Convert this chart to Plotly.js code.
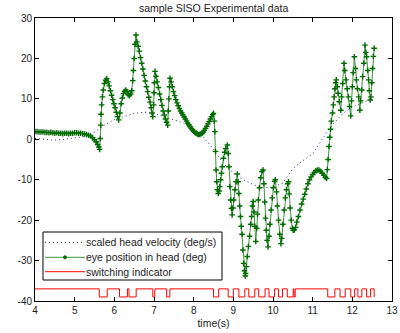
<!DOCTYPE html>
<html>
<head>
<meta charset="utf-8">
<script src="https://cdn.plot.ly/plotly-3.0.1.min.js"></script>
<style>html,body{margin:0;padding:0;background:#fff;}#chart{width:400px;height:333px;}</style>
</head>
<body>
<div id="chart"></div>
<script>
// Scaled head velocity (deg/s), dotted blue
var headT = [4.0,4.25,4.5,4.75,5.0,5.25,5.5,5.75,6.0,6.25,6.5,6.75,7.0,7.25,7.5,7.75,8.0,8.25,8.5,8.75,9.0,9.25,9.5,9.75,10.0,10.25,10.5,10.75,11.0,11.25,11.5,11.75,12.0,12.25,12.5];
var headV = [0.2,0.0,-0.2,0.0,0.3,0.7,1.8,3.5,4.9,5.7,6.4,6.7,6.4,5.6,4.8,4.0,2.3,0.5,-2.5,-6.0,-8.3,-10.0,-11.2,-12.0,-11.8,-10.8,-7.3,-5.3,-3.6,0.2,3.6,6.3,8.0,9.0,10.0];

// Eye position in head (deg), green line with markers
var eyeT = [4.00,4.05,4.10,4.15,4.20,4.25,4.30,4.35,4.40,4.45,4.50,4.55,4.60,4.65,4.70,4.75,4.80,4.85,4.90,4.95,5.00,5.05,5.10,5.15,5.20,5.25,5.30,5.35,5.40,5.45,5.50,5.54,5.58,5.61,5.63,5.645,5.655,5.665,5.68,5.70,5.72,5.75,5.78,5.81,5.84,5.87,5.90,5.93,5.96,5.99,6.02,6.05,6.08,6.11,6.14,6.17,6.20,6.23,6.26,6.29,6.32,6.35,6.38,6.41,6.44,6.465,6.48,6.50,6.52,6.545,6.57,6.60,6.63,6.66,6.69,6.72,6.75,6.78,6.81,6.84,6.87,6.90,6.93,6.95,6.97,6.99,7.00,7.01,7.025,7.05,7.08,7.11,7.14,7.17,7.20,7.23,7.26,7.29,7.32,7.345,7.36,7.375,7.39,7.405,7.43,7.46,7.49,7.52,7.55,7.58,7.61,7.64,7.67,7.70,7.73,7.76,7.79,7.82,7.85,7.88,7.91,7.94,7.97,8.00,8.03,8.06,8.09,8.12,8.15,8.18,8.21,8.24,8.27,8.30,8.33,8.36,8.39,8.42,8.45,8.48,8.50,8.52,8.535,8.55,8.565,8.58,8.60,8.62,8.64,8.66,8.68,8.70,8.72,8.75,8.78,8.81,8.85,8.87,8.89,8.91,8.93,8.95,8.97,8.99,9.01,9.04,9.07,9.10,9.12,9.14,9.16,9.18,9.20,9.22,9.24,9.26,9.28,9.30,9.31,9.33,9.35,9.38,9.41,9.44,9.46,9.48,9.50,9.52,9.54,9.565,9.59,9.61,9.63,9.66,9.69,9.72,9.75,9.77,9.79,9.81,9.83,9.85,9.875,9.90,9.92,9.95,9.98,10.01,10.04,10.06,10.09,10.11,10.14,10.17,10.20,10.22,10.25,10.28,10.31,10.34,10.37,10.39,10.41,10.43,10.46,10.49,10.51,10.54,10.57,10.60,10.64,10.68,10.72,10.76,10.80,10.84,10.88,10.92,10.96,11.00,11.04,11.08,11.12,11.16,11.20,11.24,11.28,11.32,11.35,11.37,11.39,11.41,11.43,11.45,11.47,11.50,11.52,11.54,11.56,11.58,11.595,11.62,11.64,11.67,11.71,11.73,11.76,11.79,11.81,11.84,11.87,11.90,11.93,11.96,11.98,12.00,12.02,12.05,12.08,12.10,12.13,12.16,12.19,12.21,12.24,12.26,12.29,12.32,12.34,12.36,12.39,12.41,12.43,12.45,12.47,12.49,12.51,12.53,12.55];
var eyeV = [1.9,1.9,1.8,1.8,1.8,1.7,1.7,1.6,1.7,1.6,1.5,1.6,1.5,1.5,1.4,1.5,1.5,1.4,1.5,1.5,1.6,1.6,1.5,1.5,1.4,1.3,1.2,1.0,0.8,0.4,-0.1,-0.6,-1.3,-1.9,-2.5,0.2,3.5,6.2,8.5,10.5,12.2,13.8,14.6,15.0,14.2,13.2,12.0,10.9,9.8,8.8,7.8,6.7,5.6,4.8,6.5,8.8,10.2,11.3,11.9,12.2,11.8,11.0,10.8,11.2,12.0,14.5,17.0,20.0,23.5,25.8,24.1,23.0,21.8,20.2,18.8,17.4,15.8,14.4,13.0,11.8,10.4,9.2,7.8,6.5,5.6,8.5,11.5,14.0,16.8,15.6,14.2,12.8,11.2,9.8,8.4,7.0,6.0,5.0,4.2,3.5,7.0,10.0,13.0,15.1,14.2,13.0,11.8,10.8,9.8,9.0,8.3,7.6,7.0,6.5,6.0,5.5,5.0,4.5,4.0,3.6,3.1,2.7,2.3,2.0,1.7,1.5,1.3,1.2,1.2,1.3,1.5,1.8,2.2,2.7,3.2,3.8,4.4,5.0,5.6,6.1,6.4,4.5,1.9,-3.0,-7.6,-10.5,-12.5,-13.4,-12.8,-11.7,-10.0,-8.4,-6.8,-4.7,-3.2,-2.3,-1.4,-3.5,-6.8,-11.7,-15.0,-17.1,-18.7,-17.0,-15.0,-12.5,-10.5,-8.6,-10.5,-13.4,-16.5,-19.1,-21.5,-23.5,-27.4,-30.7,-32.5,-33.8,-33.2,-31.5,-29.0,-26.5,-24.0,-21.0,-19.1,-16.5,-15.4,-18.0,-21.5,-25.3,-22.0,-18.5,-15.0,-12.0,-9.5,-8.0,-7.6,-11.0,-15.5,-19.5,-22.5,-25.0,-26.6,-24.0,-21.0,-17.5,-14.5,-12.0,-10.4,-10.0,-13.0,-16.5,-20.0,-23.5,-25.8,-24.5,-21.0,-17.5,-14.5,-12.5,-11.0,-10.5,-13.5,-17.0,-20.0,-22.0,-22.5,-22.4,-21.8,-20.5,-19.1,-17.5,-16.0,-14.8,-13.6,-12.3,-11.0,-10.0,-9.3,-8.7,-8.2,-7.8,-7.6,-7.6,-7.9,-8.4,-8.9,-9.4,-9.7,-7.5,-5.0,-1.8,0.5,2.5,4.5,6.5,8.5,10.5,12.5,14.0,14.7,13.0,11.4,9.3,7.2,10.5,13.8,18.8,17.0,14.7,12.5,10.5,8.1,5.8,9.5,13.0,16.5,20.4,17.5,14.7,12.5,10.5,7.2,9.5,12.2,15.5,18.8,23.3,21.5,20.4,17.0,14.7,12.0,9.7,10.5,14.0,17.5,20.5,22.5];

// Switching indicator (step signal)
var switchT = [4.0,5.62,5.82,6.13,6.33,6.37,6.55,6.97,7.02,7.32,7.40,8.50,8.63,8.87,9.00,9.14,9.29,9.39,9.54,9.64,9.80,9.90,10.04,10.14,10.24,10.36,10.51,10.53,10.56,11.38,11.56,11.69,11.82,11.96,12.06,12.14,12.24,12.36,12.46,12.55];
var switchV = [-37,-39,-37,-39,-37,-39,-37,-39,-37,-39,-37,-39,-37,-39,-37,-39,-37,-39,-37,-39,-37,-39,-37,-39,-37,-39,-37,-39,-37,-39,-37,-39,-37,-39,-37,-39,-37,-39,-37,-39];

var seriesNames = ['scaled head velocity (deg/s)','eye position in head (deg)','switching indicator'];
var xTicks = [4,5,6,7,8,9,10,11,12,13];
var yTicks = [-40,-30,-20,-10,0,10,20,30];

var font = 'Liberation Sans, Arial, Helvetica, sans-serif';
var headColor = '#2a2a8a', eyeLine = '#3f943f', eyeMarker = '#006b00', switchColor = '#ff0000';

var traces = [
  {x: headT, y: headV, name: seriesNames[0], mode: 'lines', showlegend: false,
   line: {color: headColor, width: 1, dash: '1px,3px'}},
  {x: eyeT, y: eyeV, name: seriesNames[1], mode: 'lines+markers', showlegend: false,
   line: {color: eyeLine, width: 1},
   marker: {symbol: 'cross-thin', size: 4, color: eyeMarker, line: {width: 1.4, color: eyeMarker}}},
  {x: switchT, y: switchV, name: seriesNames[2], mode: 'lines', showlegend: false,
   line: {color: switchColor, width: 1, shape: 'hv'}}
];

var axisCommon = {
  showline: true, linecolor: '#000', linewidth: 1, mirror: 'allticks',
  ticks: 'inside', ticklen: 4, tickcolor: '#000', showgrid: false, zeroline: false,
  tickfont: {family: font, size: 10, color: '#222'}
};

// Legend box (drawn in paper coordinates of the plot area)
var lg = {x0: 0.0224, x1: 0.5238, y0: 0.0742, y1: 0.2438, sx0: 0.028, sx1: 0.140, tx: 0.141,
          rows: [0.2074, 0.1544, 0.1035]};
var shapes = [
  {type: 'rect', xref: 'paper', yref: 'paper', x0: lg.x0, x1: lg.x1, y0: lg.y0, y1: lg.y1,
   line: {color: '#000', width: 1}, fillcolor: '#fff', layer: 'above'},
  {type: 'line', xref: 'paper', yref: 'paper', x0: lg.sx0, x1: lg.sx1, y0: lg.rows[0], y1: lg.rows[0],
   line: {color: headColor, width: 1, dash: '1px,3px'}, layer: 'above'},
  {type: 'line', xref: 'paper', yref: 'paper', x0: lg.sx0, x1: lg.sx1, y0: lg.rows[1], y1: lg.rows[1],
   line: {color: eyeLine, width: 1}, layer: 'above'},
  {type: 'circle', xref: 'paper', yref: 'paper', xsizemode: 'pixel', ysizemode: 'pixel',
   xanchor: (lg.sx0 + lg.sx1) / 2, yanchor: lg.rows[1], x0: -1.5, x1: 1.5, y0: -1.5, y1: 1.5,
   line: {color: eyeMarker, width: 1}, fillcolor: eyeMarker, layer: 'above'},
  {type: 'line', xref: 'paper', yref: 'paper', x0: lg.sx0, x1: lg.sx1, y0: lg.rows[2], y1: lg.rows[2],
   line: {color: switchColor, width: 1}, layer: 'above'}
];
var annotations = seriesNames.map(function (n, i) {
  return {xref: 'paper', yref: 'paper', x: lg.tx, y: lg.rows[i], xanchor: 'left', yanchor: 'middle',
          text: n, showarrow: false, borderpad: 0, font: {family: font, size: 10.5, color: '#222'}};
});

var layout = {
  width: 400, height: 333,
  margin: {l: 35, r: 8, t: 18, b: 32},
  paper_bgcolor: '#fff', plot_bgcolor: '#fff',
  title: {text: 'sample SISO Experimental data', font: {family: font, size: 10.5, color: '#222'},
          x: 0.534, xanchor: 'center', y: 0.976, yanchor: 'middle'},
  xaxis: Object.assign({}, axisCommon, {range: [4, 13], tickvals: xTicks, ticktext: xTicks.map(String),
          title: {text: 'time(s)', font: {family: font, size: 10.5, color: '#222'}, standoff: 4}}),
  yaxis: Object.assign({}, axisCommon, {range: [-40, 30], tickvals: yTicks, ticktext: yTicks.map(String)}),
  showlegend: false,
  shapes: shapes,
  annotations: annotations
};

Plotly.newPlot('chart', traces, layout, {displayModeBar: false, staticPlot: true});
</script>
</body>
</html>
